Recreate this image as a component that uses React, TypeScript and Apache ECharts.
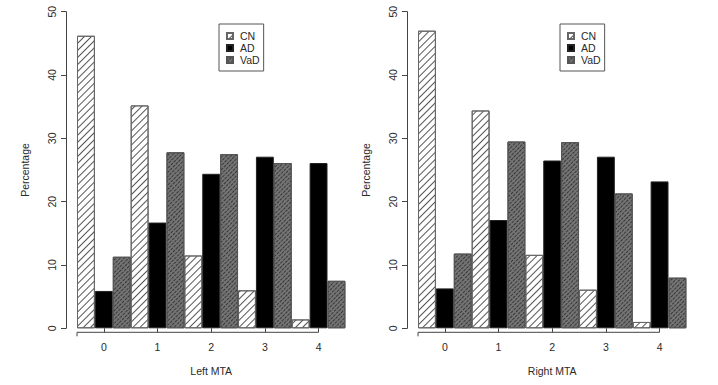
import React, { useEffect, useRef } from "react";
import * as echarts from "echarts";

const categories = ["0", "1", "2", "3", "4"];
const seriesNames = ["CN", "AD", "VaD"];
const leftCN = [46.2, 35.2, 11.5, 6.0, 1.4];
const leftAD = [5.9, 16.7, 24.4, 27.1, 26.1];
const leftVaD = [11.3, 27.8, 27.5, 26.1, 7.5];
const rightCN = [47.0, 34.4, 11.6, 6.1, 1.0];
const rightAD = [6.3, 17.1, 26.5, 27.1, 23.2];
const rightVaD = [11.8, 29.5, 29.4, 21.3, 8.0];
const panelTitles = ["Left MTA", "Right MTA"];
const yTitle = "Percentage";
const yMin = 0;
const yMax = 50;
const yStep = 10;

const FONT = "'Liberation Sans', Arial, Helvetica, sans-serif";
const INK = "#2a2a2a";

const styles: Record<string, any> = {
  CN: {
    color: "#ffffff",
    borderColor: "#666",
    borderWidth: 1,
    decal: {
      symbol: "rect",
      symbolSize: 1,
      dashArrayX: [1, 0],
      dashArrayY: [1, 4],
      rotation: -Math.PI / 4,
      color: "#555",
    },
  },
  AD: { color: "#000000", borderColor: "#222", borderWidth: 1 },
  VaD: {
    color: "#747474",
    borderColor: "#555",
    borderWidth: 1,
    decal: {
      symbol: "rect",
      symbolSize: 1,
      dashArrayX: [3, 1],
      dashArrayY: [1, 2],
      rotation: -Math.PI / 4,
      color: "#383838",
    },
  },
};

export default function App() {
  const ref = useRef<HTMLDivElement>(null);
  useEffect(() => {
    if (!ref.current) return;
    const chart = echarts.init(ref.current, undefined, { renderer: "svg" });
    const lefts = [77, 418];
    const width = 268.4;
    const top = 11.7;
    const height = 316.6;
    const data = [
      [leftCN, leftAD, leftVaD],
      [rightCN, rightAD, rightVaD],
    ];
    const grids = lefts.map((l) => ({ left: l, top, width, height }));
    const xAxes = lefts.map((_, i) => ({
      type: "category",
      gridIndex: i,
      data: categories,
      offset: 4,
      axisLine: { show: false },
      axisTick: { show: true, alignWithLabel: true, length: 4, lineStyle: { color: "#444" } },
      axisLabel: { fontSize: 10.5, color: INK, fontFamily: FONT, margin: 9 },
      name: panelTitles[i],
      nameLocation: "middle",
      nameGap: 33,
      nameTextStyle: { fontSize: 10.5, color: INK, fontFamily: FONT },
      splitLine: { show: false },
    }));
    const yAxes = lefts.map((_, i) => ({
      type: "value",
      gridIndex: i,
      min: yMin,
      max: yMax,
      interval: yStep,
      offset: 11,
      axisLine: { show: true, lineStyle: { color: "#444" } },
      axisTick: { show: true, length: 5, lineStyle: { color: "#444" } },
      axisLabel: { fontSize: 10.5, color: INK, fontFamily: FONT, rotate: 90, margin: 9 },
      splitLine: { show: false },
      name: yTitle,
      nameLocation: "middle",
      nameGap: 36,
      nameTextStyle: { fontSize: 10.5, color: INK, fontFamily: FONT },
    }));
    const series: any[] = [];
    data.forEach((panel, i) => {
      panel.forEach((vals, k) => {
        series.push({
          type: "bar",
          name: seriesNames[k],
          xAxisIndex: i,
          yAxisIndex: i,
          data: vals,
          barGap: "0%",
          barCategoryGap: "0%",
          itemStyle: styles[seriesNames[k]],
          emphasis: { disabled: true },
        });
      });
    });
    const legends = lefts.map((l) => ({
      orient: "vertical",
      left: l + 142,
      top: 24,
      data: seriesNames,
      icon: "rect",
      itemWidth: 6,
      itemHeight: 6,
      itemGap: 0,
      padding: [6, 4, 5, 7],
      borderColor: "#555",
      borderWidth: 1,
      selectedMode: false,
      textStyle: { fontSize: 10.5, color: INK, fontFamily: FONT, lineHeight: 12, padding: [0, 0, 0, 2] },
    }));
    chart.setOption({
      animation: false,
      backgroundColor: "#ffffff",
      aria: { enabled: false },
      grid: grids,
      xAxis: xAxes,
      yAxis: yAxes,
      legend: legends,
      series,
    });
    // x axis baseline (from left edge of first group to last tick) using the axis scales
    const g: any[] = [];
    lefts.forEach((_, i) => {
      const x0 = chart.convertToPixel({ xAxisIndex: i } as any, categories[0]) as number;
      const x1 = chart.convertToPixel({ xAxisIndex: i } as any, categories[1]) as number;
      const xl = chart.convertToPixel({ xAxisIndex: i } as any, categories[categories.length - 1]) as number;
      const y0 = chart.convertToPixel({ yAxisIndex: i } as any, yMin) as number;
      const start = x0 - (x1 - x0) / 2;
      const yl = y0 + 4;
      g.push({ type: "line", silent: true, shape: { x1: start, y1: yl, x2: xl, y2: yl }, style: { stroke: "#444", lineWidth: 1 } });
      g.push({ type: "line", silent: true, shape: { x1: start, y1: yl, x2: start, y2: yl + 4 }, style: { stroke: "#444", lineWidth: 1 } });
    });
    chart.setOption({ graphic: g });
    return () => chart.dispose();
  }, []);
  return <div ref={ref} style={{ position: "fixed", left: 0, top: 0, width: 718, height: 385 }} />;
}
